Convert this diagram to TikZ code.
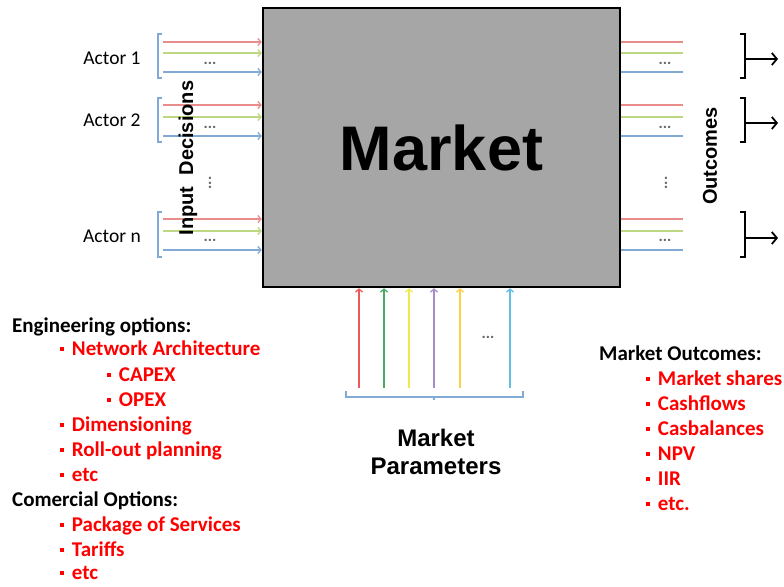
\documentclass[tikz,border=0pt]{standalone}
\usepackage{fontspec}
\setmainfont{Carlito}
\newfontfamily\headfont{Liberation Sans}
\usetikzlibrary{arrows,arrows.meta}

\definecolor{boxgray}{RGB}{166,166,166}
\definecolor{inred}{RGB}{232,140,140}
\definecolor{ingreen}{RGB}{190,215,130}
\definecolor{inblue}{RGB}{130,170,215}
\definecolor{pred}{RGB}{235,90,90}
\definecolor{pgreen}{RGB}{70,170,100}
\definecolor{pyellow}{RGB}{240,232,80}
\definecolor{ppurple}{RGB}{165,140,200}
\definecolor{porange}{RGB}{250,210,70}
\definecolor{pcyan}{RGB}{100,190,225}

\newcommand{\sqb}{\rule[0.2em]{0.2em}{0.2em}\hspace{0.36em}}

\begin{document}
\begin{tikzpicture}[x=1pt,y=-1pt,>=to,
    actor/.style={font=\fontsize{19.5}{22}\selectfont},
    item/.style={anchor=west,inner sep=0pt,text=red,text height=0.7em,text depth=0.2em,
                 font=\fontsize{21}{25}\selectfont\bfseries},
    head/.style={item,text=black},
    dots/.style={text=black!60,inner sep=0pt,font=\fontsize{16}{16}\selectfont\bfseries},
    bigtext/.style={font=\headfont\bfseries\fontsize{#1}{#1}\selectfont},
    inline/.style={line width=1.3pt,-{Straight Barb[length=3pt,width=7pt]}},
    outline/.style={line width=1.3pt},
    brk/.style={line width=1.1pt,inblue}]
  \useasboundingbox (0,0) rectangle (784,586);

  % the market box
  \node[draw,line width=2.5pt,fill=boxgray,minimum width=357pt,minimum height=279pt,
        bigtext=63] (market) at (441.5,147.5) {Market};

  % actors and their decisions
  \node[actor] (a1) at (112,58) {Actor 1};
  \node[actor] (a2) at (112,120) {Actor 2};
  \node[actor] (an) at (112,236) {Actor n};
  \foreach \g/\ya/\yb/\yc/\yd/\top/\bot in {1/42/53/72/63/34/78,
      2/105/117/136/127/98/142, 3/219/231/250/240/212/257} {
    \draw[brk] (162,\top) -- (158,\top) -- (158,\bot) -- (162,\bot);
    \coordinate (in\g r) at (163,\ya);
    \coordinate (in\g g) at (163,\yb);
    \coordinate (in\g b) at (163,\yc);
    \draw[inline,inred] (in\g r) -- (in\g r -| market.west);
    \draw[inline,ingreen] (in\g g) -- (in\g g -| market.west);
    \draw[inline,inblue] (in\g b) -- (in\g b -| market.west);
    \node[dots] (ind\g) at (210,\yd) {...};
    % outcomes on the right
    \coordinate (out\g r) at (683,\ya);
    \coordinate (out\g g) at (683,\yb);
    \coordinate (out\g b) at (683,\yc);
    \draw[outline,inred] (out\g r -| market.east) -- (out\g r);
    \draw[outline,ingreen] (out\g g -| market.east) -- (out\g g);
    \draw[outline,inblue] (out\g b -| market.east) -- (out\g b);
    \node[dots] (outd\g) at (665,\yd) {...};
    \draw[line width=1.8pt] (740,\top) -- (745,\top) -- (745,\bot) -- (740,\bot);
  }
  \node[dots,rotate=90] (invd) at (210,183) {...};
  \node[dots,rotate=90] (outvd) at (666,183) {...};

  % result arrows
  \foreach \g/\y in {1/59,2/123,3/238} {
    \coordinate (rb\g) at (745,\y);
    \coordinate (re\g) at (778,\y);
    \draw[-{Straight Barb[length=5pt,width=12pt]},line width=1.8pt] (rb\g) -- (re\g);
  }

  \node[bigtext=20,rotate=90] (inp) at (188,158) {Input\ \ Decisions};
  \node[bigtext=20,rotate=90] (outc) at (710,156) {Outcomes};

  % market parameters
  \foreach \x/\c in {359/pred,384/pgreen,409/pyellow,434/ppurple,460/porange,510/pcyan} {
    \coordinate (par\x) at (\x,388);
    \draw[inline,\c] (par\x) -- (par\x |- market.south);
  }
  \node[dots] (pard) at (488,337) {...};
  \draw[brk] (346,391) -- (346,397) -- (523,397) -- (523,391);
  \draw[brk] (434,397) -- (434,400);
  \node[bigtext=24,align=center] (params) at (436,452) {Market\\[4pt]Parameters};

  % options on the left
  \node[head] (eng) at (12,330) {Engineering options:};
  \node[item] (e1) at (60,353) {\sqb Network Architecture};
  \node[item] (e11) at (107,379) {\sqb CAPEX};
  \node[item] (e12) at (107,404) {\sqb OPEX};
  \node[item] (e2) at (60,429) {\sqb Dimensioning};
  \node[item] (e3) at (60,454) {\sqb Roll-out planning};
  \node[item] (e4) at (60,479) {\sqb etc};
  \node[head] (com) at (12,504) {Comercial Options:};
  \node[item] (c1) at (60,529) {\sqb Package of Services};
  \node[item] (c2) at (60,554) {\sqb Tariffs};
  \node[item] (c3) at (60,577) {\sqb etc};

  % outcomes list on the right
  \node[head] (mo) at (599,358) {Market Outcomes:};
  \node[item] (m1) at (646,383) {\sqb Market shares};
  \node[item] (m2) at (646,408) {\sqb Cashflows};
  \node[item] (m3) at (646,433) {\sqb Casbalances};
  \node[item] (m4) at (646,458) {\sqb NPV};
  \node[item] (m5) at (646,483) {\sqb IIR};
  \node[item] (m6) at (646,508) {\sqb etc.};
\end{tikzpicture}
\end{document}
